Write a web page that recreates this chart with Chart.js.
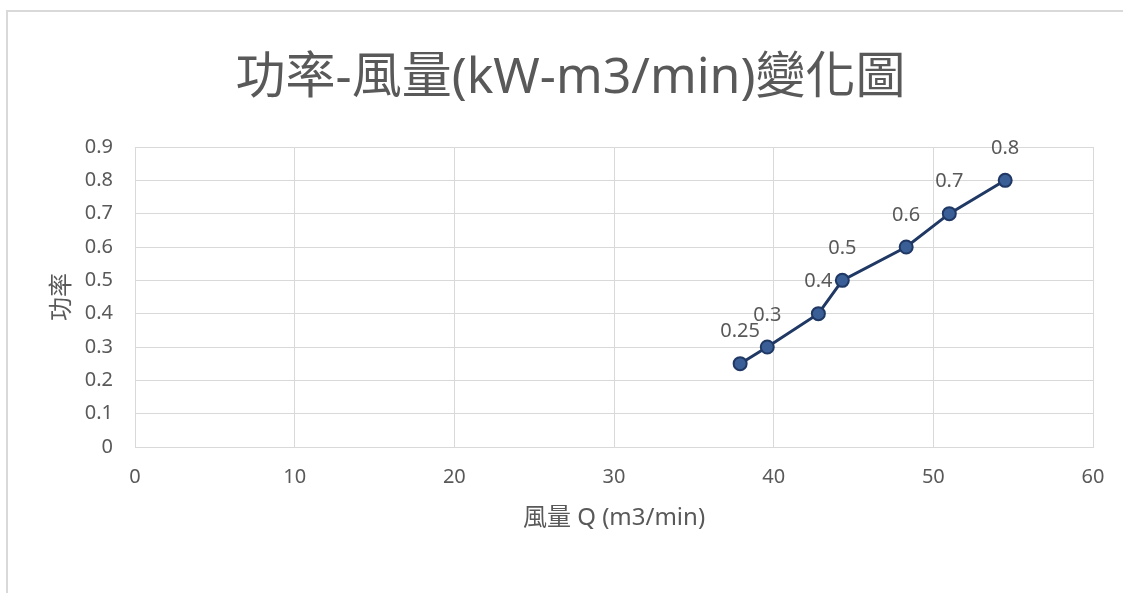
<!DOCTYPE html>
<html><head><meta charset="utf-8">
<script src="https://cdn.jsdelivr.net/npm/chart.js@4"></script>
<style>
html,body{margin:0;padding:0;background:#fff;overflow:hidden}
#frame{position:absolute;left:6px;top:10px;width:1130px;height:600px;border:2px solid #d9d9d9;box-sizing:border-box}
#wrap{position:absolute;left:0;top:0;width:1123px;height:593px}
</style></head>
<body>
<div id="frame"></div>
<div id="wrap"><canvas id="c" width="1123" height="593"></canvas></div>
<script>
const airflow = [37.9, 39.6, 42.8, 44.3, 48.3, 51.0, 54.5];
const power = [0.25, 0.3, 0.4, 0.5, 0.6, 0.7, 0.8];
const titleText = '功率-風量(kW-m3/min)變化圖';
const xTitle = '風量 Q (m3/min)';
const yTitle = '功率';

const FONT = '"Noto Sans", "Noto Sans CJK TC", sans-serif';
const GREY = '#595959';

const labelPlugin = {
  id: 'pointLabels',
  afterDatasetsDraw(chart) {
    const ctx = chart.ctx;
    const meta = chart.getDatasetMeta(0);
    ctx.save();
    ctx.font = '20px ' + FONT;
    ctx.fillStyle = GREY;
    ctx.textAlign = 'center';
    ctx.textBaseline = 'middle';
    meta.data.forEach((el, i) => {
      ctx.fillText(String(power[i]), el.x, el.y - 32);
    });
    ctx.restore();
  }
};

new Chart(document.getElementById('c'), {
  type: 'scatter',
  data: {
    datasets: [{
      data: airflow.map((x, i) => ({x, y: power[i]})),
      showLine: true,
      borderColor: '#1f3864',
      borderWidth: 3,
      backgroundColor: '#3a5e96',
      pointBorderColor: '#1f3864',
      pointBorderWidth: 2,
      pointRadius: 6.5,
      pointHoverRadius: 6.5
    }]
  },
  options: {
    responsive: false,
    animation: false,
    events: [],
    layout: { padding: { left: 48, right: 30, top: 0, bottom: 0 } },
    plugins: {
      legend: { display: false },
      tooltip: { enabled: false },
      title: {
        display: true,
        text: titleText,
        color: GREY,
        font: { family: FONT, size: 50, weight: 'normal' },
        padding: { top: 49, bottom: 38 }
      }
    },
    scales: {
      x: {
        type: 'linear',
        min: 0, max: 60,
        ticks: { stepSize: 10, color: GREY, font: { family: FONT, size: 20 }, padding: 18 },
        grid: { color: '#d9d9d9', drawTicks: false, lineWidth: 1 },
        border: { color: '#d9d9d9' },
        title: { display: true, text: xTitle, color: GREY, font: { family: FONT, size: 24 }, padding: { top: 0, bottom: 60 } },
        afterFit(s) { s.height = 146; }
      },
      y: {
        min: 0, max: 0.9,
        ticks: { stepSize: 0.1, color: GREY, font: { family: FONT, size: 20 }, padding: 22 },
        grid: { color: '#d9d9d9', drawTicks: false, lineWidth: 1 },
        border: { color: '#d9d9d9' },
        title: { display: true, text: yTitle, color: GREY, font: { family: FONT, size: 24 }, padding: { top: 0, bottom: 0 } },
        afterFit(s) { s.width = 87; }
      }
    }
  },
  plugins: [labelPlugin]
});
</script>
</body></html>
